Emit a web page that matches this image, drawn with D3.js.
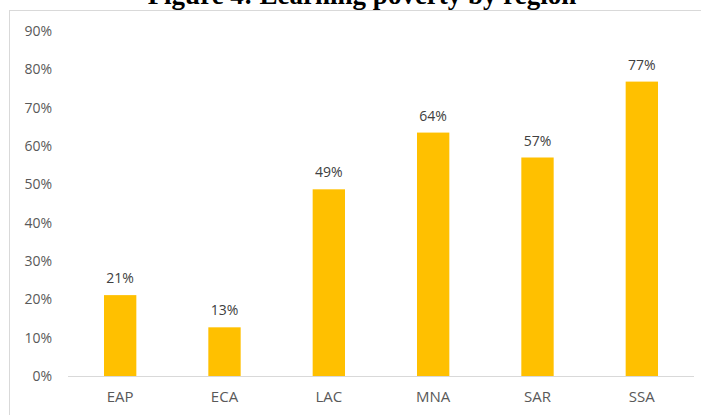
<!DOCTYPE html>
<html>
<head>
<meta charset="utf-8">
<script src="https://cdn.jsdelivr.net/npm/d3@7"></script>
<style>
  body { margin: 0; background: #fff; }
  text { font-family: "Open Sans", sans-serif; }
</style>
</head>
<body>
<svg id="grafico"></svg>
<script>
const regioes = ['EAP', 'ECA', 'LAC', 'MNA', 'SAR', 'SSA'];
const pobreza = [0.211, 0.127, 0.487, 0.635, 0.570, 0.768];
const ticksY = [0, 0.1, 0.2, 0.3, 0.4, 0.5, 0.6, 0.7, 0.8, 0.9];
const titulo = 'Figure 4: Learning poverty by region';

const dados = regioes.map((r, i) => ({ chave: r, valor: pobreza[i] }));

const largura = 701, altura = 415;
const svg = d3.select('#grafico').attr('width', largura).attr('height', altura);

// moldura do grafico
svg.append('rect')
  .attr('x', 9.5).attr('y', 10.5)
  .attr('width', 720).attr('height', 430)
  .attr('fill', 'none')
  .attr('stroke', '#d9d9d9');

svg.append('text')
  .attr('x', 362).attr('y', 4)
  .attr('text-anchor', 'middle')
  .style('font-family', '"Liberation Serif", "Times New Roman", serif')
  .style('font-weight', 'bold')
  .style('font-size', '27px')
  .attr('fill', '#000')
  .text(titulo);

const margem = { esquerda: 68, direita: 7, superior: 31, inferior: 39 };
const larguraPlotagem = largura - margem.esquerda - margem.direita;
const alturaPlotagem = altura - margem.superior - margem.inferior;

const plotagem = svg.append('g').attr('transform', `translate(${margem.esquerda}, ${margem.superior})`);

const x = d3.scaleBand().domain(regioes).range([0, larguraPlotagem]).paddingInner(0.69).paddingOuter(0.345);
const y = d3.scaleLinear().domain([0, 0.9]).range([alturaPlotagem, 0]);

const eixoY = d3.axisLeft(y).tickValues(ticksY).tickFormat(d3.format('.0%')).tickSize(0).tickPadding(16);
const gY = plotagem.append('g').call(eixoY);
gY.select('.domain').remove();
gY.selectAll('text').attr('fill', '#595959').style('font-size', '14px');

plotagem.selectAll('.barra')
  .data(dados)
  .enter()
  .append('rect')
  .classed('barra', true)
  .attr('x', d => x(d.chave))
  .attr('y', d => y(d.valor))
  .attr('width', x.bandwidth())
  .attr('height', d => alturaPlotagem - y(d.valor))
  .attr('fill', '#ffc000');

const eixoX = d3.axisBottom(x).tickSize(0).tickPadding(15);
const gX = plotagem.append('g').attr('transform', `translate(0, ${alturaPlotagem})`).call(eixoX);
gX.select('.domain').attr('stroke', '#d9d9d9').attr('d', `M0,0.5H${larguraPlotagem}`);
gX.selectAll('text').attr('fill', '#595959').style('font-size', '15px');

plotagem.selectAll('.rotulo')
  .data(dados)
  .enter()
  .append('text')
  .classed('rotulo', true)
  .attr('x', d => x(d.chave) + x.bandwidth() / 2)
  .attr('y', d => y(d.valor))
  .attr('dy', -12)
  .attr('text-anchor', 'middle')
  .attr('fill', '#404040')
  .style('font-size', '14px')
  .text(d => d3.format('.0%')(d.valor));
</script>
</body>
</html>
